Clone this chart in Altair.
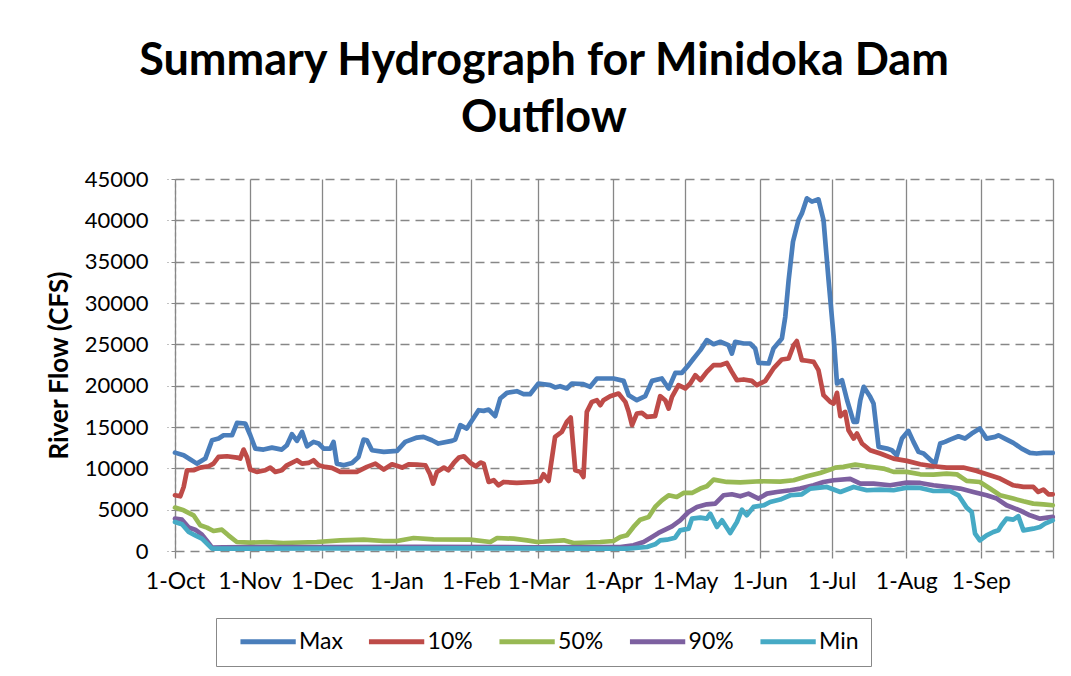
import altair as alt
import pandas as pd

SERIES = ["Max", "10%", "50%", "90%", "Min"]
COLORS = ["#4A7EBB", "#BE4B48", "#98B954", "#7D60A0", "#46AAC5"]

MAX_DAYS = [0, 3.6, 6.4, 9.1, 12.6, 15.4, 18.1, 20.2, 23.7, 25.8, 29.2, 31.3, 33.4, 36.8, 40.3, 44.4, 46.5, 48.6, 50.7, 52.8,
            54.9, 57.6, 59.7, 61.8, 64.6, 65.9, 67.3, 70.1, 73.6, 76.3, 78.4, 79.8, 81.9, 86.8, 92.3, 95.7, 100.6, 103.3, 106.8,
            109.5, 115.1, 116.5, 118.6, 121.3, 126.2, 128.3, 130.4, 133.1, 135.2, 138, 142.1, 144.9, 147.6, 151.1, 156, 158,
            160.1, 162.9, 165, 169.8, 172.6, 175.4, 182.3, 186.5, 188.6, 192, 195.5, 198.3, 202.4, 205.2, 208, 210.7, 213.5,
            215.6, 218.4, 221.1, 223.9, 226.7, 230.1, 231.5, 232.9, 236.4, 239.1, 241.2, 242.6, 246.8, 248.8, 252.3, 253.7,
            255.1, 256.9, 259.2, 260.6, 262.7, 264.8, 267.5, 269.6, 271.7, 273.8, 275.2, 277.3, 279.4, 282.1, 283.5, 284.9,
            286.3, 289, 290.4, 292.5, 296, 298, 300.1, 302.2, 304.9, 307, 309.1, 311.2, 313.9, 316, 318.1, 320.1, 322.2, 325.7,
            328.4, 331.2, 334.6, 337.4, 340.9, 342.3, 345, 348.5, 352, 355.4, 358.2, 361, 364.9]
MAX_VALS = [11900, 11580, 11060, 10570, 11180, 13400, 13600, 14000, 14000, 15500, 15420, 14000, 12390, 12270, 12500, 12270,
            12790, 14130, 13320, 14410, 12670, 13200, 13000, 12390, 12390, 13200, 10570, 10370, 10650, 11380, 13480, 13400,
            12190, 11990, 12110, 13200, 13720, 13800, 13400, 13000, 13320, 13480, 15220, 14810, 17030, 16950, 17110, 16310,
            18440, 19130, 19330, 18970, 18970, 20260, 20060, 19780, 19940, 19660, 20260, 20180, 19860, 20870, 20870, 20580,
            18850, 18240, 18730, 20580, 20870, 19660, 21550, 21550, 22480, 23290, 24300, 25510, 25020, 25310, 24900, 23890,
            25310, 25100, 25100, 24500, 22760, 22680, 24500, 25710, 28330, 32770, 37410, 40040, 40840, 42660, 42260, 42540,
            40040, 32770, 25910, 20260, 20660, 18240, 15620, 15620, 18240, 19860, 18650, 17840, 12590, 12390, 12190, 11580,
            13600, 14530, 13200, 11990, 11790, 11060, 10570, 13000, 13200, 13480, 13880, 13600, 14210, 14810, 13600, 13800,
            14000, 13600, 13080, 12390, 11870, 11790, 11870, 11870]

P10_DAYS = [0, 2.2, 3.6, 5, 7.7, 10.5, 14, 16, 18.1, 21.6, 25.8, 27.1, 28.5, 29.9, 31.3, 34, 37.5, 39.6, 41.7, 44.4, 46.5,
            50.7, 52.8, 55.5, 57.6, 59.7, 62.4, 65.2, 68.7, 75.6, 79.8, 83.3, 86.8, 90.2, 94.4, 97.1, 100.6, 104.1, 105.9,
            107.3, 108.9, 111.8, 113.6, 115.9, 118, 120.1, 122.9, 125, 127, 128.3, 130.4, 132.5, 134.5, 136.6, 142.1, 149,
            151.8, 153.2, 155.3, 158, 160.8, 162.9, 164.5, 166.4, 168.5, 169.8, 171.2, 173.3, 175.4, 176.8, 178.1, 180.9,
            184.4, 187.2, 188.6, 190, 192, 194.1, 196.2, 199.6, 201.7, 203.8, 205.2, 206.6, 209.3, 212.1, 214.2, 216.3, 218.4,
            221.1, 223.9, 226.7, 229.4, 231.5, 233.6, 236.4, 239.8, 241.9, 245.4, 248.8, 252.3, 255.1, 257.2, 258.5, 260.6,
            262.7, 265.5, 267.5, 269.6, 272.4, 273.8, 275.2, 276.6, 278.6, 280, 282.1, 283.5, 285.6, 289, 293.2, 298.7, 304.2,
            309.8, 315.3, 320.8, 327.7, 333.3, 338.8, 343, 348.5, 352.7, 356.8, 358.9, 361, 363.1, 364.9]
P10_VALS = [6740, 6620, 7750, 9770, 9770, 10090, 10250, 10570, 11380, 11460, 11300, 11180, 12270, 11380, 9850, 9570, 9770,
            10090, 9570, 9770, 10370, 10980, 10570, 10650, 10980, 10370, 10170, 10050, 9570, 9570, 10170, 10570, 9850, 10490,
            10090, 10490, 10450, 10370, 9360, 8150, 9570, 10090, 9770, 10650, 11300, 11460, 10650, 10250, 10700, 10570, 8350,
            8560, 7950, 8350, 8230, 8350, 8480, 9280, 8480, 13800, 14410, 15620, 16140, 9770, 9570, 8960, 16830, 18040, 18240,
            17640, 18240, 18730, 19050, 18040, 16830, 15220, 16630, 16710, 16220, 16310, 18730, 18240, 17230, 18650, 20060,
            19660, 20260, 21270, 20660, 21670, 22480, 22480, 22760, 21670, 20660, 20750, 20580, 20060, 20580, 22080, 23170,
            23290, 24900, 25390, 23090, 23010, 22880, 21880, 18850, 18040, 17840, 19130, 16310, 16830, 14610, 13600, 14210,
            13000, 12190, 11790, 11180, 10900, 10490, 10250, 10090, 10090, 9690, 9160, 8760, 7950, 7750, 7750, 7140, 7430,
            6860, 6860]

P50_DAYS = [0, 3.6, 7.7, 10.5, 13.3, 16, 19.5, 22.2, 25.7, 31.3, 38.1, 45, 58.9, 68.7, 78.4, 86.7, 92.3, 99.2, 107.5,
            122.8, 131.1, 133.9, 140.8, 146.4, 150.5, 161.6, 165.7, 176.8, 182.3, 185.1, 187.9, 190.6, 193.4, 196.9, 199.6,
            202.4, 205.2, 208.6, 211.4, 214.9, 218.4, 221.1, 223.9, 229.4, 235, 243.3, 251.6, 257.2, 262.7, 268.2, 272.4,
            274.5, 277.9, 282.8, 287.6, 294.5, 298.7, 304.2, 309.8, 315.3, 320.8, 325, 329.1, 334.6, 338.8, 343, 348.5, 352.7,
            356.8, 361, 364.9]
P50_VALS = [5250, 4920, 4320, 3110, 2830, 2420, 2580, 1900, 1090, 1010, 1090, 970, 1090, 1290, 1370, 1210, 1210, 1570, 1410,
            1370, 1090, 1570, 1490, 1290, 1090, 1290, 970, 1090, 1210, 1700, 1900, 2910, 3790, 4120, 5330, 6130, 6740, 6540,
            7020, 7020, 7550, 7830, 8640, 8350, 8310, 8440, 8390, 8560, 9040, 9440, 9850, 10090, 10170, 10450, 10250, 9970,
            9570, 9570, 9280, 9240, 9360, 9280, 8480, 8350, 7550, 6740, 6340, 6010, 5730, 5650, 5530]

P90_DAYS = [0, 2.9, 5.7, 8.4, 11.2, 13.3, 15.4, 20, 60, 100, 150, 176.8, 185.1, 190.6, 194.8, 198.3, 201, 203.8, 206.6,
            210, 213.5, 217, 221.1, 224.6, 228, 231.5, 235, 238.4, 242.6, 246.1, 250.2, 255.8, 259.9, 265.5, 269.6, 273.8,
            280.7, 284.9, 290.4, 297.3, 304.2, 309.8, 315.3, 320.8, 326.4, 331.9, 337.4, 341.6, 345.7, 351.2, 355.4, 359.6,
            364.9]
P90_VALS = [3910, 3790, 2830, 2580, 1980, 1210, 400, 450, 480, 500, 450, 480, 480, 690, 1090, 1700, 2180, 2580, 2990, 3710,
            4720, 5330, 5650, 5730, 6740, 6860, 6620, 6940, 6340, 6940, 7140, 7350, 7550, 7950, 8350, 8560, 8720, 8150, 8150,
            7950, 8270, 8230, 7950, 7750, 7550, 7140, 6740, 6340, 5530, 4920, 4320, 3910, 4120]

MIN_DAYS = [0, 2.9, 5.7, 8.4, 11.2, 13.3, 15.4, 60, 120, 176.8, 187.9, 196.2, 199.6, 201.7, 204.5, 207.9, 210, 213.5,
            214.9, 218.4, 221.1, 222.5, 225.3, 227.4, 230.8, 233.6, 235.7, 237.7, 240.5, 244.7, 247.4, 251.6, 255.8, 260.6,
            264.1, 271, 276.6, 282.1, 287.6, 293.2, 298.7, 304.2, 309.8, 315.3, 322.2, 325.7, 329.1, 331.2, 332.6, 334.6,
            337.4, 340.2, 342.3, 343.6, 345.7, 348.5, 350.6, 352.7, 356.8, 359.6, 361.7, 364.9]
MIN_VALS = [3510, 3230, 2300, 1900, 1490, 890, 280, 300, 320, 280, 280, 480, 810, 1290, 1370, 1610, 2500, 2700, 3910, 4040,
            3910, 4520, 2910, 3710, 2180, 3510, 5000, 4320, 5330, 5530, 5930, 6220, 6740, 6860, 7550, 7750, 7140, 7750, 7350,
            7430, 7350, 7670, 7630, 7260, 7260, 6740, 5250, 4720, 2100, 1290, 1900, 2300, 2500, 3110, 3910, 3790, 4200, 2500,
            2700, 2910, 3310, 3710]

TICK_DAYS = [0, 31, 61, 92, 123, 151, 182, 212, 243, 273, 304, 335, 365]
TICK_LABELS = ["1-Oct", "1-Nov", "1-Dec", "1-Jan", "1-Feb", "1-Mar", "1-Apr", "1-May", "1-Jun", "1-Jul", "1-Aug", "1-Sep", ""]
Y_TICKS = list(range(0, 45001, 5000))

rows = []
for name, days, vals in [("Max", MAX_DAYS, MAX_VALS), ("10%", P10_DAYS, P10_VALS), ("50%", P50_DAYS, P50_VALS),
                         ("90%", P90_DAYS, P90_VALS), ("Min", MIN_DAYS, MIN_VALS)]:
    for d, v in zip(days, vals):
        rows.append({"series": name, "day": d, "flow": v})
df = pd.DataFrame(rows)

label_expr = "[" + ",".join("'%s'" % t for t in TICK_LABELS) + "][indexof([" + ",".join(str(t) for t in TICK_DAYS) + "], datum.value)]"

FONT = "Lato"

chart = alt.Chart(df).mark_line(strokeWidth=4.7, strokeJoin="round", strokeCap="round").encode(
    x=alt.X("day:Q", scale=alt.Scale(domain=[0, 365], nice=False, zero=False),
            axis=alt.Axis(values=TICK_DAYS, labelExpr=label_expr, title=None, grid=True,
                          gridColor="#878787", gridWidth=1.3, gridOpacity=1, domain=False,
                          tickSize=7, tickColor="#878787", tickWidth=1.3,
                          labelFont=FONT, labelFontSize=23, labelColor="#000000", labelPadding=12,
                          labelFlush=False, labelOverlap=False)),
    y=alt.Y("flow:Q", scale=alt.Scale(domain=[0, 45000], nice=False),
            axis=alt.Axis(values=Y_TICKS, format="d", title="River Flow (CFS)", grid=True,
                          gridColor="#878787", gridWidth=1.5, gridDash=[9, 6], gridOpacity=1,
                          domain=True, domainColor="#878787", domainDash=[4, 3], domainWidth=1.2,
                          tickSize=8, tickColor="#878787", tickWidth=1.2, tickDash=[4, 3],
                          labelFont=FONT, labelFontSize=22, labelColor="#000000", labelPadding=19,
                          titleFont=FONT, titleFontSize=26, titleFontWeight="bold", titleColor="#000000",
                          titlePadding=12)),
    color=alt.Color("series:N", scale=alt.Scale(domain=SERIES, range=COLORS),
                    legend=alt.Legend(title=None, orient="none", legendX=41, legendY=439, direction="horizontal",
                                      symbolType="M-5.53,0L5.53,0", symbolStrokeWidth=5, symbolSize=100,
                                      symbolOffset=28.6, labelOffset=19.5,
                                      labelFont=FONT, labelFontSize=23, labelColor="#000000",
                                      columnPadding=13.5, padding=12, strokeColor="#888888", fillColor="#FFFFFF")),
).properties(
    width=878,
    height=372,
    title=alt.TitleParams(["Summary Hydrograph for Minidoka Dam", "Outflow"], font=FONT, fontSize=45,
                          fontWeight="bold", color="#000000", anchor="middle", dx=-70, offset=27, lineHeight=57),
    autosize=alt.AutoSizeParams(type="none"),
    padding={"left": 167, "top": 171, "right": 10, "bottom": 117},
).configure_view(stroke=None)

chart.save("out.html", embed_options={"renderer": "svg", "actions": False})
